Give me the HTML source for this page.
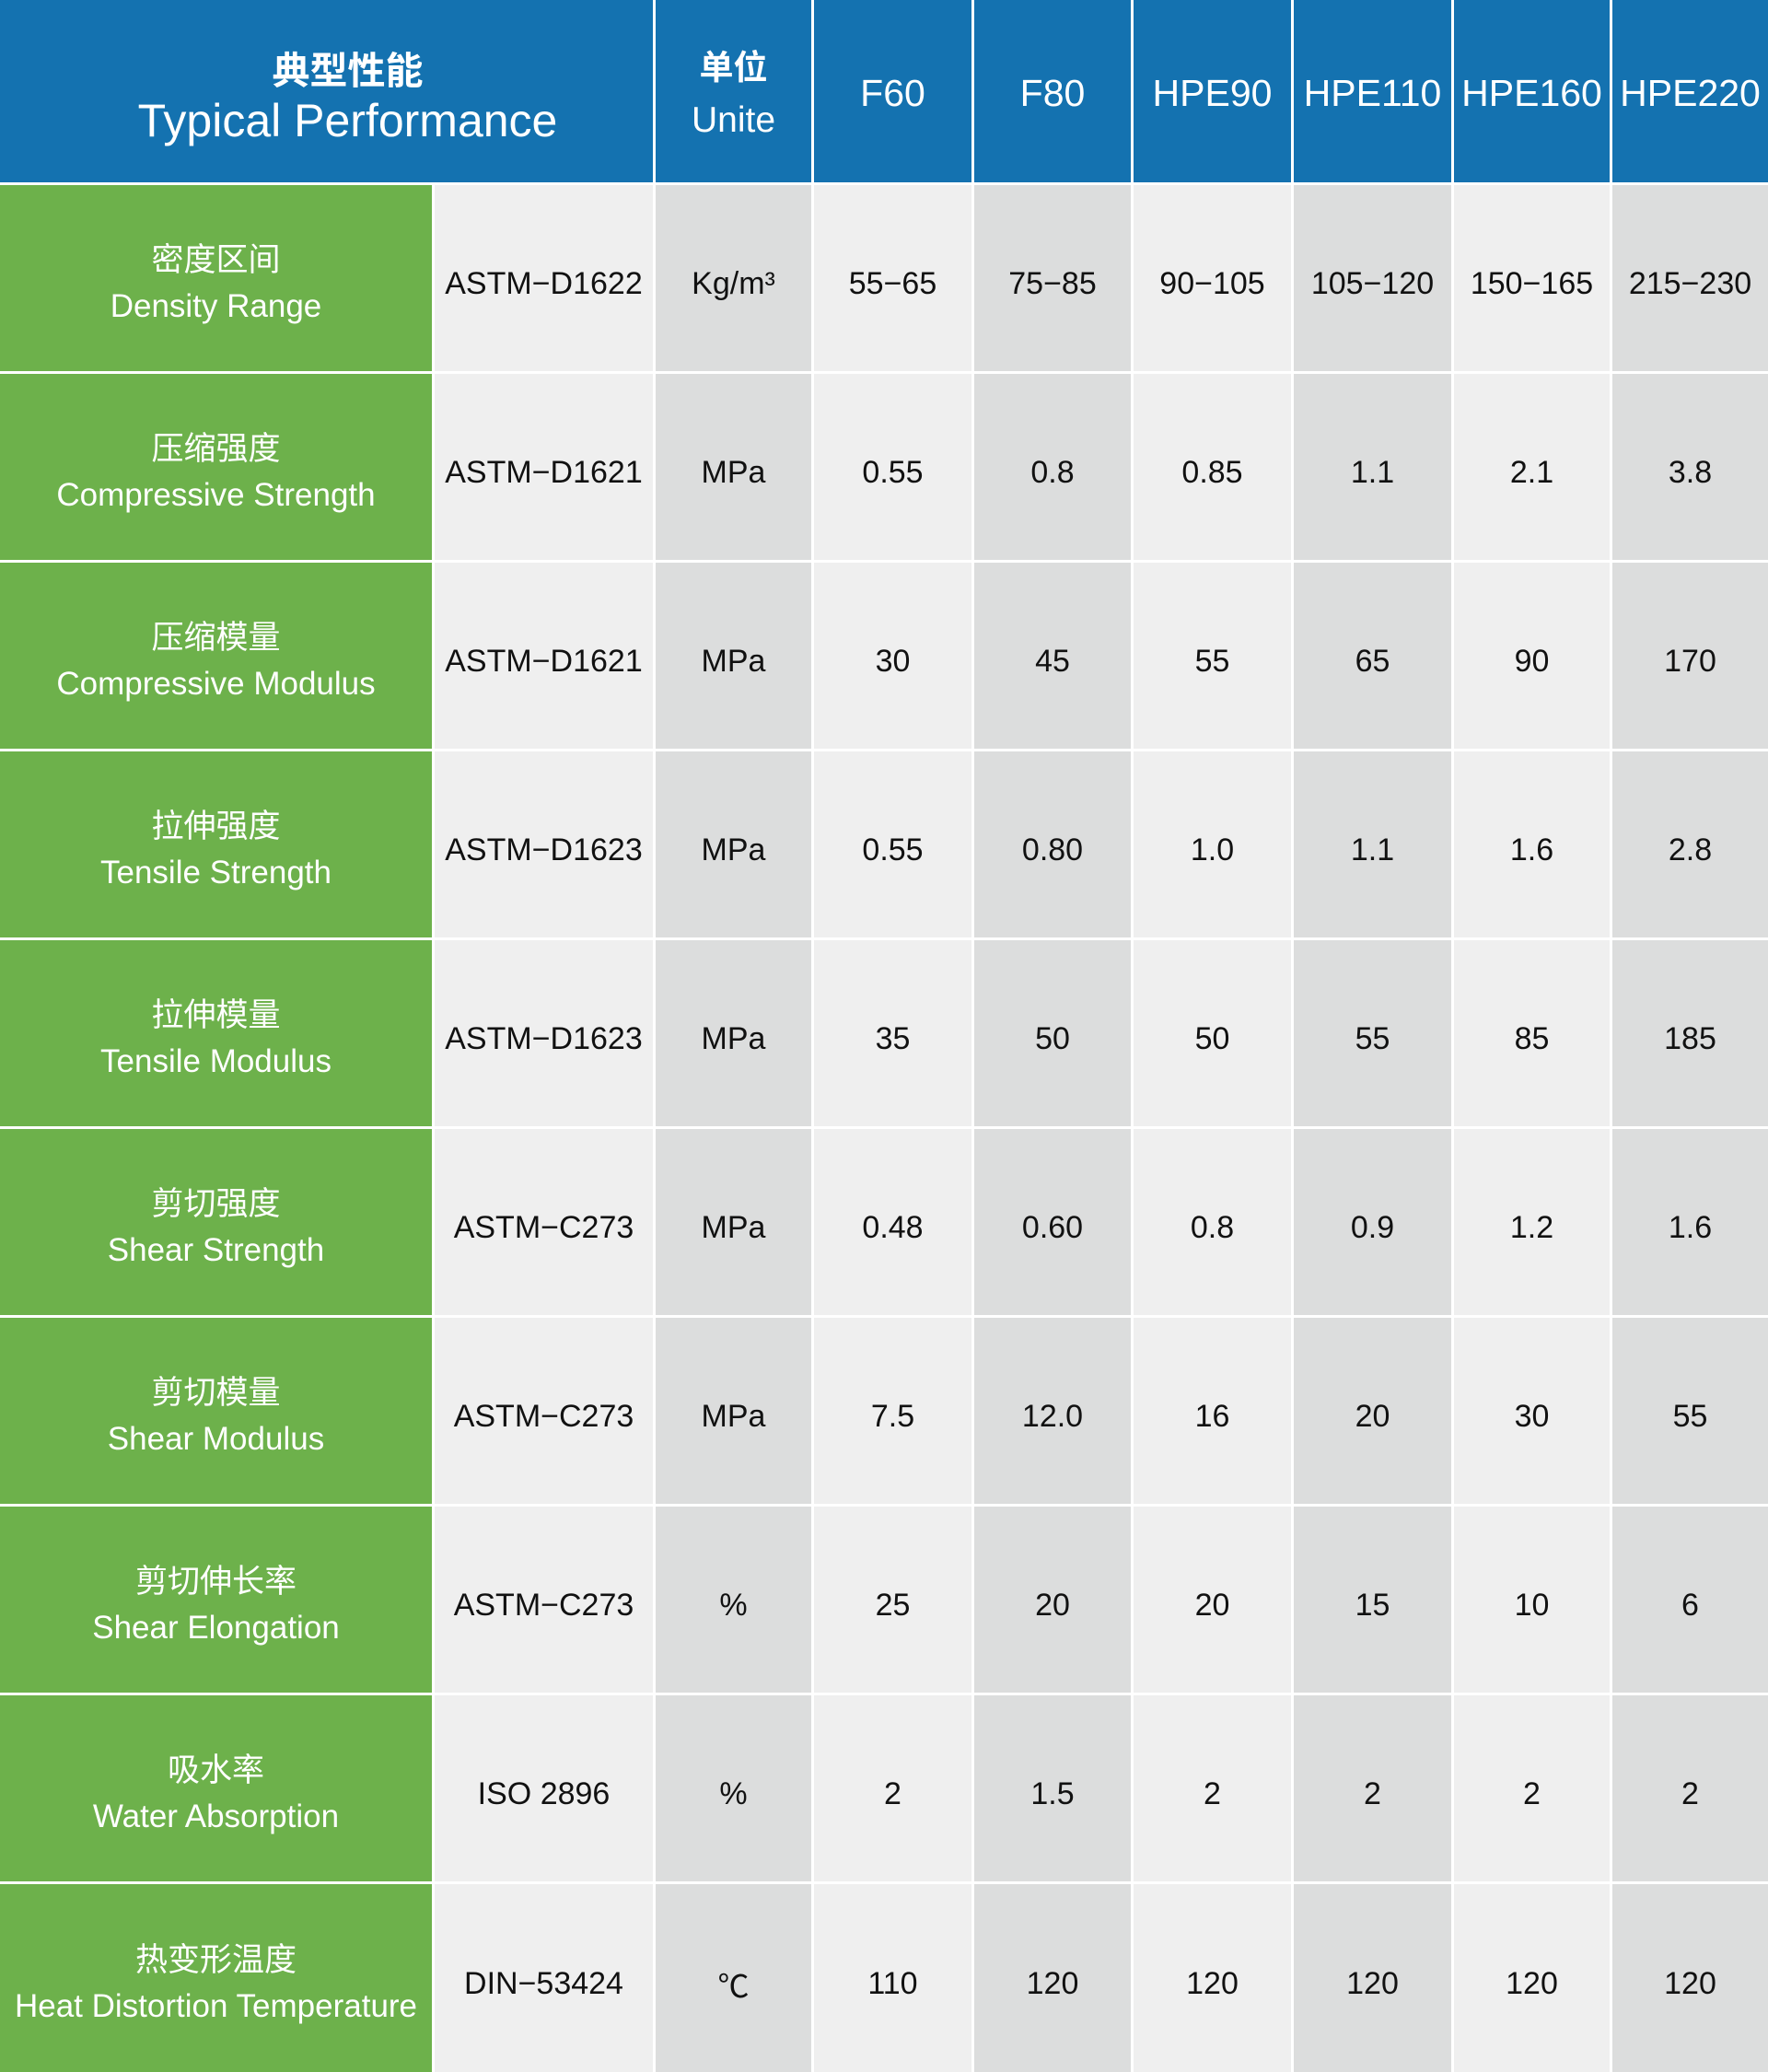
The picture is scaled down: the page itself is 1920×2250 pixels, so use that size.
<!DOCTYPE html>
<html><head><meta charset="utf-8"><style>
*{margin:0;padding:0;box-sizing:border-box}
body{width:1920px;height:2250px;background:#fff;position:relative;overflow:hidden;font-family:"Liberation Sans","Noto Sans CJK SC",sans-serif}
.c{position:absolute;display:flex;flex-direction:column;align-items:center;justify-content:center;text-align:center;white-space:nowrap}
.h{background:#1472b0;color:#fff}
.g{background:#6db14b;color:#fff;font-size:35px;line-height:50px;padding-top:12px}
.l{background:#efefef;color:#111;font-size:34px;padding-top:12px}
.d{background:#dcdddd;color:#111;font-size:34px;padding-top:12px}
</style></head><body>
<div id="t"></div>
<script>
var cols=[[0,469],[472,709],[712,881],[884,1055],[1058,1228],[1231,1402],[1405,1576],[1579,1748],[1751,1920]];
var H='';
function cell(x1,x2,y1,y2,cls,html,extra){H+='<div class="c '+cls+'" style="left:'+x1+'px;width:'+(x2-x1)+'px;top:'+y1+'px;height:'+(y2-y1)+'px;'+(extra||'')+'">'+html+'</div>';}
cell(0,709,0,198,'h','<div style="font-size:41px;font-weight:bold;line-height:52px">典型性能</div><div style="font-size:50px;line-height:56px">Typical Performance</div>','padding-top:12px;padding-left:46px');
cell(712,881,0,198,'h','<div style="font-size:37px;font-weight:bold;line-height:56px">单位</div><div style="font-size:39px;line-height:58px">Unite</div>','padding-top:8px');
var hd=['F60','F80','HPE90','HPE110','HPE160','HPE220'];
for(var i=0;i<6;i++)cell(cols[i+3][0],cols[i+3][1],0,198,'h','<div style="font-size:41px">'+hd[i]+'</div>','padding-top:4px');
var rows=[
['密度区间','Density Range','ASTM−D1622','Kg/m³',['55−65','75−85','90−105','105−120','150−165','215−230']],
['压缩强度','Compressive Strength','ASTM−D1621','MPa',['0.55','0.8','0.85','1.1','2.1','3.8']],
['压缩模量','Compressive Modulus','ASTM−D1621','MPa',['30','45','55','65','90','170']],
['拉伸强度','Tensile Strength','ASTM−D1623','MPa',['0.55','0.80','1.0','1.1','1.6','2.8']],
['拉伸模量','Tensile Modulus','ASTM−D1623','MPa',['35','50','50','55','85','185']],
['剪切强度','Shear Strength','ASTM−C273','MPa',['0.48','0.60','0.8','0.9','1.2','1.6']],
['剪切模量','Shear Modulus','ASTM−C273','MPa',['7.5','12.0','16','20','30','55']],
['剪切伸长率','Shear Elongation','ASTM−C273','%',['25','20','20','15','10','6']],
['吸水率','Water Absorption','ISO 2896','%',['2','1.5','2','2','2','2']],
['热变形温度','Heat Distortion Temperature','DIN−53424','℃',['110','120','120','120','120','120']]];
for(var r=0;r<10;r++){
 var y1=201+r*205,y2=(r==9)?2250:y1+202,R=rows[r];
 cell(0,469,y1,y2,'g','<div>'+R[0]+'</div><div>'+R[1]+'</div>');
 cell(472,709,y1,y2,'l',R[2]);
 cell(712,881,y1,y2,'d',R[3]);
 for(var i=0;i<6;i++)cell(cols[i+3][0],cols[i+3][1],y1,y2,(i%2==0)?'l':'d',R[4][i]);
}
document.getElementById('t').innerHTML=H;
</script>
</body></html>
